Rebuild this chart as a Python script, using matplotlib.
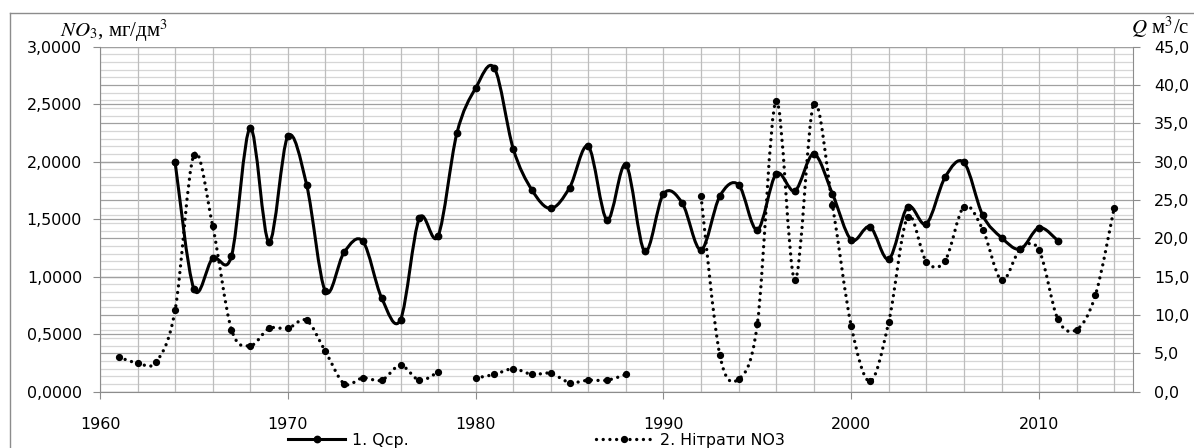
import numpy as np
import matplotlib
matplotlib.use('Agg')
import matplotlib.pyplot as plt
from matplotlib.path import Path
from matplotlib.patches import PathPatch
from matplotlib.ticker import MultipleLocator, FuncFormatter
from matplotlib.lines import Line2D

plt.rcParams['mathtext.fontset'] = 'stix'

# ---- data ----
q_years = list(range(1964, 2012))
q_values = [29.9, 13.4, 17.4, 17.7, 34.4, 19.5, 33.3, 27.0, 13.1, 18.2,
            19.6, 12.2, 9.4, 22.6, 20.3, 33.7, 39.6, 42.2, 31.7, 26.3,
            23.9, 26.6, 32.0, 22.4, 29.6, 18.3, 25.8, 24.6, 18.5, 25.5,
            27.0, 21.1, 28.4, 26.2, 31.0, 25.8, 19.8, 21.5, 17.3, 24.1,
            21.9, 28.0, 29.9, 23.0, 20.1, 18.6, 21.4, 19.7]

no3_years = list(range(1961, 2015))
no3_values = [0.30, 0.25, 0.26, 0.71, 2.06, 1.44, 0.54, 0.40, 0.55, 0.55,
              0.62, 0.35, 0.07, 0.12, 0.10, 0.23, 0.10, 0.17, np.nan, 0.12,
              0.15, 0.20, 0.15, 0.16, 0.08, 0.10, 0.10, 0.15, np.nan, np.nan,
              np.nan, 1.70, 0.32, 0.11, 0.59, 2.53, 0.97, 2.50, 1.62, 0.57,
              0.09, 0.61, 1.52, 1.13, 1.14, 1.61, 1.41, 0.97, 1.24, 1.23,
              0.63, 0.54, 0.84, 1.60]

labels = ['1. Qср.', '2. Нітрати NO3']


def smooth_path(x, y):
    """Excel-style smoothed line (Catmull-Rom as cubic Bezier), split at gaps."""
    x = np.asarray(x, float)
    y = np.asarray(y, float)
    idx = np.where(~np.isnan(y))[0]
    runs = np.split(idx, np.where(np.diff(idx) != 1)[0] + 1)
    verts, codes = [], []
    for r in runs:
        px, py = x[r], y[r]
        n = len(px)
        verts.append((px[0], py[0]))
        codes.append(Path.MOVETO)
        for i in range(n - 1):
            a = max(i - 1, 0)
            d = min(i + 2, n - 1)
            c1 = (px[i] + (px[i + 1] - px[a]) / 6, py[i] + (py[i + 1] - py[a]) / 6)
            c2 = (px[i + 1] - (px[d] - px[i]) / 6, py[i + 1] - (py[d] - py[i]) / 6)
            verts += [c1, c2, (px[i + 1], py[i + 1])]
            codes += [Path.CURVE4] * 3
    return Path(verts, codes)


fig = plt.figure(figsize=(11.94, 4.48), dpi=100)
ax1 = fig.add_axes([100 / 1194, 1 - 391.7 / 448, (1133 - 100) / 1194, (391.7 - 46.7) / 448])
ax2 = ax1.twinx()
ax1.set_zorder(2)
ax2.set_zorder(1)
ax1.patch.set_visible(False)

ax1.set_xlim(1960, 2015)
ax1.set_ylim(0, 3)
ax2.set_ylim(0, 45)

# grids
ax1.xaxis.set_major_locator(MultipleLocator(10))
ax1.xaxis.set_minor_locator(MultipleLocator(2))
ax1.yaxis.set_major_locator(MultipleLocator(0.5))
ax2.yaxis.set_major_locator(MultipleLocator(5))
ax2.yaxis.set_minor_locator(MultipleLocator(1))
ax1.grid(which='both', axis='x', color='#bdbdbd', lw=0.9)
ax1.grid(which='major', axis='y', color='#a0a0a0', lw=0.9)
ax2.grid(which='minor', axis='y', color='#d6d6d6', lw=0.9)
ax2.grid(which='major', axis='y', color='#a0a0a0', lw=0.9)
ax1.set_axisbelow(True)

# formatters
ax1.yaxis.set_major_formatter(FuncFormatter(lambda v, p: f'{v:.4f}'.replace('.', ',')))
ax2.yaxis.set_major_formatter(FuncFormatter(lambda v, p: f'{v:.1f}'.replace('.', ',')))
ax1.xaxis.set_major_formatter(FuncFormatter(lambda v, p: f'{int(round(v))}'))

gc = '#8c8c8c'
fs = 11.4
ax1.tick_params(axis='y', which='major', length=5, width=0.8, color=gc, pad=8, labelsize=fs)
ax1.tick_params(axis='x', which='major', length=5, width=0.8, color=gc, pad=13, labelsize=fs)
ax1.tick_params(axis='x', which='minor', length=0)
ax2.tick_params(axis='y', which='major', length=5, width=0.8, color=gc, pad=10, labelsize=fs)
ax2.tick_params(axis='y', which='minor', length=0)

for s in ['top', 'right']:
    ax1.spines[s].set_visible(False)
for s in ['top', 'left', 'bottom']:
    ax2.spines[s].set_visible(False)
for s in ['left', 'bottom']:
    ax1.spines[s].set_color(gc)
ax2.spines['right'].set_color(gc)

# Q series (right axis scale), drawn in ax1 using ax2's data transform
q_path = smooth_path(q_years, q_values)
ax1.add_patch(PathPatch(q_path, transform=ax2.transData, fill=False,
                        edgecolor='black', lw=2.2, capstyle='round', joinstyle='round', zorder=3))
ax1.plot(q_years, q_values, linestyle='none', marker='o', ms=4.6, color='black',
         transform=ax2.transData, zorder=4)

# nitrates (left axis)
n_path = smooth_path(no3_years, no3_values)
ax1.add_patch(PathPatch(n_path, fill=False, edgecolor='black', lw=2.4,
                        linestyle=(0, (0.01, 2.0)), capstyle='round', zorder=3))
ax1.plot(no3_years, no3_values, linestyle='none', marker='o', ms=4.2, color='black', zorder=4)

ax1.set_xlim(1960, 2015)
ax1.set_ylim(0, 3)
ax2.set_ylim(0, 45)

# axis titles
fig.text(60 / 1194, 1 - 37 / 448, r'$\mathit{NO_3}$, мг/дм$^3$', fontsize=15,
         family='Liberation Serif', ha='left', va='baseline')
fig.text(1189 / 1194, 1 - 34 / 448, r'$Q$ м$^3$/с', fontsize=15,
         family='Liberation Serif', ha='right', va='baseline')

# legend
h1 = Line2D([], [], color='black', lw=2.2, marker='o', ms=4.6)
h2 = Line2D([], [], color='black', lw=2.4, linestyle=(0, (0.01, 2.0)),
            dash_capstyle='round', marker='o', ms=4.2)
fig.legend([h1, h2], labels, loc='center left', bbox_to_anchor=(288 / 1194, 1 - 440 / 448),
           ncol=2, frameon=False, handlelength=3.6, handletextpad=0.45,
           columnspacing=11.8, fontsize=fs, borderpad=0, borderaxespad=0)

# chart-area border
fig.add_artist(Line2D([10 / 1194, 10 / 1194], [0, 1 - 12.7 / 448], transform=fig.transFigure,
                      color='#8c8c8c', lw=1))
fig.add_artist(Line2D([10 / 1194, 1], [1 - 12.7 / 448, 1 - 12.7 / 448], transform=fig.transFigure,
                      color='#8c8c8c', lw=1))

fig.savefig('out.png', dpi=100)
